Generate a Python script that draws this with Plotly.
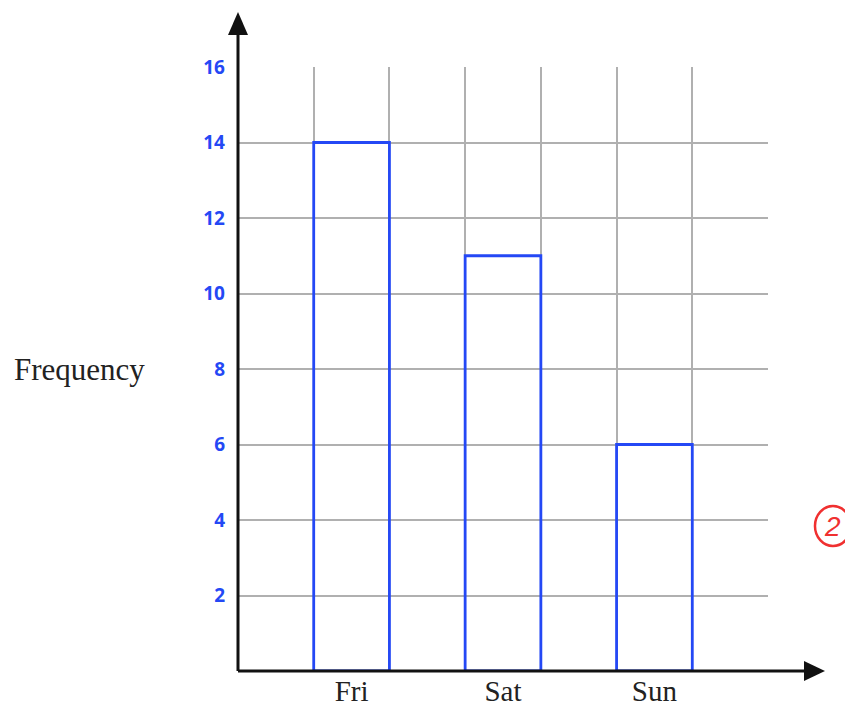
import plotly.graph_objects as go

days = ["Fri", "Sat", "Sun"]
positions = [1.5, 3.5, 5.5]
frequency = [14, 11, 6]
y_ticks = [2, 4, 6, 8, 10, 12, 14, 16]

BLUE = "#2448f5"
RED = "#f03030"
fig = go.Figure()
fig.add_trace(go.Bar(
    x=positions, y=frequency, width=1,
    marker=dict(color="rgba(0,0,0,0)", line=dict(color=BLUE, width=2.8)),
    showlegend=False,
))

fig.update_layout(
    width=845, height=700,
    margin=dict(l=230, r=85, t=59, b=37),
    paper_bgcolor="white", plot_bgcolor="white",
    xaxis=dict(
        range=[0, 7], tickvals=positions, ticktext=days, showgrid=False,
        tickfont=dict(family="Liberation Serif", size=29, color="#222"),
        minor=dict(tickmode="linear", tick0=0, dtick=1, showgrid=True,
                   gridcolor="#b0b0b0", gridwidth=2, ticks=""),
        zeroline=False, showline=False, ticks="", automargin=False,
        ticklabelstandoff=0,
    ),
    yaxis=dict(
        range=[0, 16], tickvals=y_ticks, showgrid=True,
        gridcolor="#b0b0b0", gridwidth=2,
        tickfont=dict(family="Noto Sans", size=19, color=BLUE, weight="bold"),
        zeroline=False, showline=False, ticks="", ticklabelstandoff=12,
        automargin=False,
    ),
    annotations=[
        dict(text="Frequency", x=-0.30, y=0.5, xref="paper", yref="paper",
             xanchor="center", yanchor="middle", showarrow=False,
             font=dict(family="Liberation Serif", size=31, color="#222")),
        dict(text="<i>2</i>", x=1.1226, y=0.24, xref="paper", yref="paper",
             xanchor="center", yanchor="middle", showarrow=False,
             font=dict(family="Liberation Sans", size=28, color=RED)),
    ],
    shapes=[
        dict(type="line", xref="paper", yref="paper", x0=0, y0=0, x1=0, y1=1.055,
             line=dict(color="#111", width=3), layer="above"),
        dict(type="line", xref="paper", yref="paper", x0=0, y0=0, x1=1.08, y1=0,
             line=dict(color="#111", width=3), layer="above"),
        dict(type="path", xref="paper", yref="paper", xsizemode="pixel", ysizemode="pixel",
             xanchor=0, yanchor=1.091, path="M 0 0 L -10 -23 L 10 -23 Z",
             fillcolor="#111", line=dict(width=0), layer="above"),
        dict(type="path", xref="paper", yref="paper", xsizemode="pixel", ysizemode="pixel",
             xanchor=1.1075, yanchor=0, path="M 0 0 L -21 10 L -21 -10 Z",
             fillcolor="#111", line=dict(width=0), layer="above"),
        dict(type="circle", xref="paper", yref="paper", xsizemode="pixel", ysizemode="pixel",
             xanchor=1.1226, yanchor=0.24, x0=-18, x1=18, y0=-20, y1=20,
             line=dict(color=RED, width=2.5)),
    ],
)

fig.write_html("out.html")
